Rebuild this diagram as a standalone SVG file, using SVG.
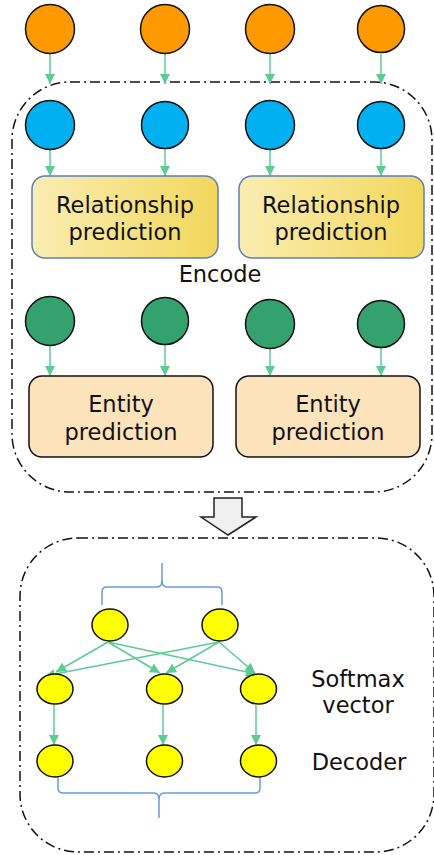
<svg xmlns="http://www.w3.org/2000/svg" width="434" height="855" viewBox="0 0 434 855">
<style>
.orange{fill:#FF9900;stroke:#111;stroke-width:1.5}
.blue{fill:#00B0F0;stroke:#111;stroke-width:1.5}
.green{fill:#34A26E;stroke:#111;stroke-width:1.5}
.yel{fill:#FFFF00;stroke:#111;stroke-width:1.5}
.conn line{stroke:#5CCB94;stroke-width:1.5}
.dash{fill:none;stroke:#111;stroke-width:1.5;stroke-dasharray:10 4 2 4}
.rel{fill:url(#relg);stroke:#5B7FBF;stroke-width:1.5}
.ent{fill:#FDE3BB;stroke:#111;stroke-width:1.5}
.brace{fill:none;stroke:#6A9BE0;stroke-width:1.5}
text{font-family:"DejaVu Sans",sans-serif;font-size:22.5px;fill:#111;text-anchor:middle}
</style>
<defs>
<linearGradient id="relg" x1="0" y1="0" x2="1" y2="0">
<stop offset="0" stop-color="#FAEDB2"/>
<stop offset="1" stop-color="#F2D75C"/>
</linearGradient>
<marker id="ah" viewBox="0 0 10 10" refX="10" refY="5" markerWidth="10" markerHeight="10" markerUnits="userSpaceOnUse" orient="auto">
<path d="M0,0 L10,5 L0,10 z" fill="#5CCB94"/>
</marker>
</defs>

<g id="encode-box">
<rect class="dash" x="12" y="82" width="420" height="410" rx="58" ry="58"/>
<text x="220" y="282">Encode</text>
</g>
<g id="decode-box">
<rect class="dash" x="20" y="538" width="414" height="314" rx="58" ry="58"/>
</g>

<g id="big-arrow">
<path d="M214,498 L242,498 L242,517 L256,517 L228,535 L201,517 L214,517 Z" fill="#F0F0F0" stroke="#222" stroke-width="1.5"/>
</g>

<g id="connectors" class="conn">
<line x1="50" y1="54" x2="50" y2="84" marker-end="url(#ah)"/>
<line x1="165" y1="54" x2="165" y2="84" marker-end="url(#ah)"/>
<line x1="270" y1="54" x2="270" y2="84" marker-end="url(#ah)"/>
<line x1="381" y1="54" x2="381" y2="84" marker-end="url(#ah)"/>
<line x1="50" y1="149" x2="50" y2="176" marker-end="url(#ah)"/>
<line x1="165" y1="149" x2="165" y2="176" marker-end="url(#ah)"/>
<line x1="270" y1="149" x2="270" y2="176" marker-end="url(#ah)"/>
<line x1="381" y1="149" x2="381" y2="176" marker-end="url(#ah)"/>
<line x1="50" y1="345" x2="50" y2="376" marker-end="url(#ah)"/>
<line x1="165" y1="345" x2="165" y2="376" marker-end="url(#ah)"/>
<line x1="270" y1="348" x2="270" y2="376" marker-end="url(#ah)"/>
<line x1="381" y1="348" x2="381" y2="376" marker-end="url(#ah)"/>
<line x1="108" y1="642" x2="56" y2="672" marker-end="url(#ah)"/>
<line x1="108" y1="642" x2="160" y2="673" marker-end="url(#ah)"/>
<line x1="108" y1="642" x2="256" y2="674" marker-end="url(#ah)"/>
<line x1="219" y1="642" x2="45" y2="676" marker-end="url(#ah)"/>
<line x1="219" y1="642" x2="166" y2="673" marker-end="url(#ah)"/>
<line x1="219" y1="642" x2="255" y2="673" marker-end="url(#ah)"/>
<line x1="54" y1="705" x2="54" y2="745" marker-end="url(#ah)"/>
<line x1="163" y1="705" x2="163" y2="745" marker-end="url(#ah)"/>
<line x1="256" y1="705" x2="256" y2="745" marker-end="url(#ah)"/>
</g>

<g id="in1"><circle class="orange" cx="50" cy="29" r="24.5"/></g>
<g id="in2"><circle class="orange" cx="165" cy="29" r="24.5"/></g>
<g id="in3"><circle class="orange" cx="270" cy="29" r="24.5"/></g>
<g id="in4"><circle class="orange" cx="381" cy="29" r="23.5"/></g>

<g id="b1"><circle class="blue" cx="50" cy="125" r="24.5"/></g>
<g id="b2"><circle class="blue" cx="165" cy="125" r="23.5"/></g>
<g id="b3"><circle class="blue" cx="270" cy="125" r="24.5"/></g>
<g id="b4"><circle class="blue" cx="381" cy="125" r="23.5"/></g>

<g id="rel1">
<rect class="rel" x="32" y="176" width="186" height="82" rx="13"/>
<text x="125" y="213">Relationship</text>
<text x="125" y="240">prediction</text>
</g>
<g id="rel2">
<rect class="rel" x="239" y="176" width="185" height="82" rx="13"/>
<text x="331" y="213">Relationship</text>
<text x="331" y="240">prediction</text>
</g>

<g id="g1"><circle class="green" cx="50" cy="321" r="24.5"/></g>
<g id="g2"><circle class="green" cx="165" cy="321" r="23.5"/></g>
<g id="g3"><circle class="green" cx="270" cy="324" r="24.5"/></g>
<g id="g4"><circle class="green" cx="381" cy="324" r="23.5"/></g>

<g id="ent1">
<rect class="ent" x="29" y="376" width="184" height="81" rx="13"/>
<text x="121" y="412">Entity</text>
<text x="121" y="440">prediction</text>
</g>
<g id="ent2">
<rect class="ent" x="236" y="376" width="184" height="81" rx="13"/>
<text x="328" y="412">Entity</text>
<text x="328" y="440">prediction</text>
</g>

<g id="brace-top">
<path class="brace" d="M102,605 L102,592 Q102,587 107,587 L157,587 Q162,587 162,580 L162,563 M162,580 Q162,587 167,587 L217,587 Q222,587 222,592 L222,605"/>
</g>
<g id="brace-bottom">
<path class="brace" d="M58,777 L58,788 Q58,793 63,793 L154,793 Q159,793 159,800 L159,818 M159,800 Q159,793 164,793 L255,793 Q260,793 260,788 L260,777"/>
</g>

<g id="h1"><ellipse class="yel" cx="110" cy="625" rx="18" ry="16"/></g>
<g id="h2"><ellipse class="yel" cx="220" cy="625" rx="18" ry="16"/></g>
<g id="s1"><ellipse class="yel" cx="55" cy="689" rx="18" ry="15"/></g>
<g id="s2"><ellipse class="yel" cx="164.5" cy="689" rx="18" ry="15"/></g>
<g id="s3"><ellipse class="yel" cx="258.5" cy="689" rx="18" ry="15"/></g>
<g id="d1"><ellipse class="yel" cx="55" cy="761" rx="18" ry="16"/></g>
<g id="d2"><ellipse class="yel" cx="164.5" cy="761" rx="18" ry="16"/></g>
<g id="d3"><ellipse class="yel" cx="258.5" cy="761" rx="18" ry="16"/></g>

<g id="labels">
<text x="358" y="687">Softmax</text>
<text x="358" y="713">vector</text>
<text x="359" y="770">Decoder</text>
</g>
</svg>
